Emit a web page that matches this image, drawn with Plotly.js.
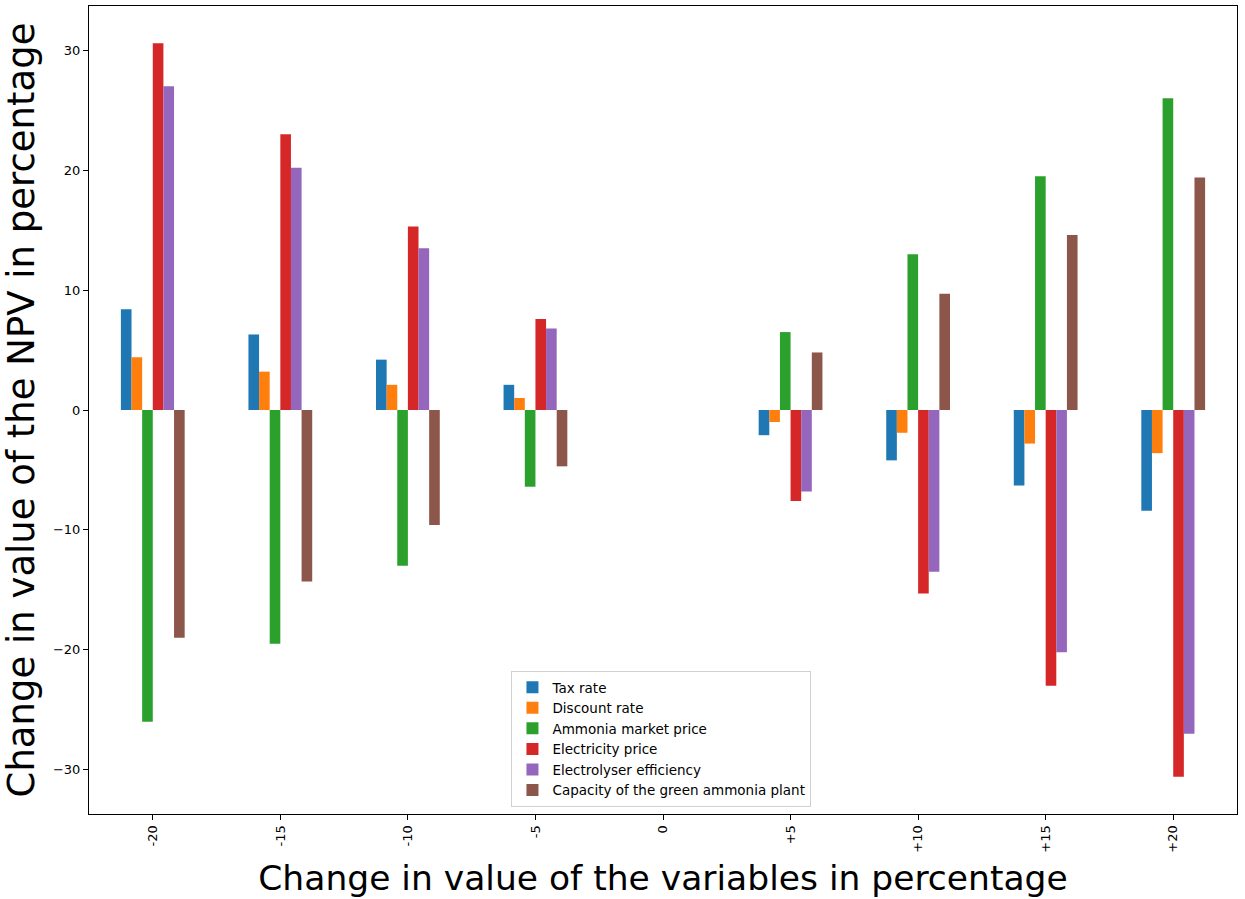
<!DOCTYPE html>
<html>
<head>
<meta charset="utf-8">
<script src="https://cdn.plot.ly/plotly-3.0.1.min.js"></script>
<style>html,body{margin:0;padding:0;background:#fff;}#chart{width:1245px;height:899px;}</style>
</head>
<body>
<div id="chart"></div>
<script>
const categories = ["-20", "-15", "-10", "-5", "0", "+5", "+10", "+15", "+20"];
const seriesNames = ["Tax rate", "Discount rate", "Ammonia market price", "Electricity price", "Electrolyser efficiency", "Capacity of the green ammonia plant"];
const taxRate = [8.4, 6.3, 4.2, 2.1, 0, -2.1, -4.2, -6.3, -8.4];
const discountRate = [4.4, 3.2, 2.1, 1.0, 0, -1.0, -1.9, -2.8, -3.6];
const ammoniaPrice = [-26.0, -19.5, -13.0, -6.4, 0, 6.5, 13.0, 19.5, 26.0];
const electricityPrice = [30.6, 23.0, 15.3, 7.6, 0, -7.6, -15.3, -23.0, -30.6];
const electrolyserEff = [27.0, 20.2, 13.5, 6.8, 0, -6.8, -13.5, -20.2, -27.0];
const plantCapacity = [-19.0, -14.3, -9.6, -4.7, 0, 4.8, 9.7, 14.6, 19.4];
const colors = ["#1f77b4", "#ff7f0e", "#2ca02c", "#d62728", "#9467bd", "#8c564b"];

const allSeries = [taxRate, discountRate, ammoniaPrice, electricityPrice, electrolyserEff, plantCapacity];
const data = allSeries.map((vals, i) => ({
  type: "bar",
  name: seriesNames[i],
  x: categories,
  y: vals,
  marker: {color: colors[i], line: {width: 0}}
}));

const layout = {
  width: 1245, height: 899,
  margin: {l: 89, r: 8, t: 6, b: 85},
  paper_bgcolor: "#fff", plot_bgcolor: "#fff",
  barmode: "group", bargap: 0.5, bargroupgap: 0,
  font: {family: "DejaVu Sans", color: "#000"},
  xaxis: {
    type: "category",
    range: [-0.5, 8.5],
    tickangle: -90,
    tickfont: {size: 13, family: "DejaVu Sans"},
    ticks: "outside", ticklen: 5, tickcolor: "#000",
    showline: true, linecolor: "#000", linewidth: 1, mirror: true,
    showgrid: false, zeroline: false,
    title: {text: "Change in value of the variables in percentage", font: {size: 34.5, family: "DejaVu Sans"}, standoff: 14}
  },
  yaxis: {
    range: [-33.7, 33.7],
    tickvals: [-30, -20, -10, 0, 10, 20, 30],
    tickfont: {size: 13, family: "DejaVu Sans"},
    ticks: "outside", ticklen: 5, tickcolor: "#000",
    showline: true, linecolor: "#000", linewidth: 1, mirror: true,
    showgrid: false, zeroline: false,
    title: {text: "Change in value of the NPV in percentage", font: {size: 37, family: "DejaVu Sans"}, standoff: 8}
  },
  legend: {
    x: 0.368, y: 0.177, xanchor: "left", yanchor: "top",
    bgcolor: "rgba(255,255,255,0.8)", bordercolor: "#d0d0d0", borderwidth: 1,
    font: {size: 13.5, family: "DejaVu Sans"},
    tracegroupgap: 0, itemwidth: 30
  },
  showlegend: true
};

Plotly.newPlot("chart", data, layout, {displayModeBar: false, staticPlot: true});
</script>
</body>
</html>
